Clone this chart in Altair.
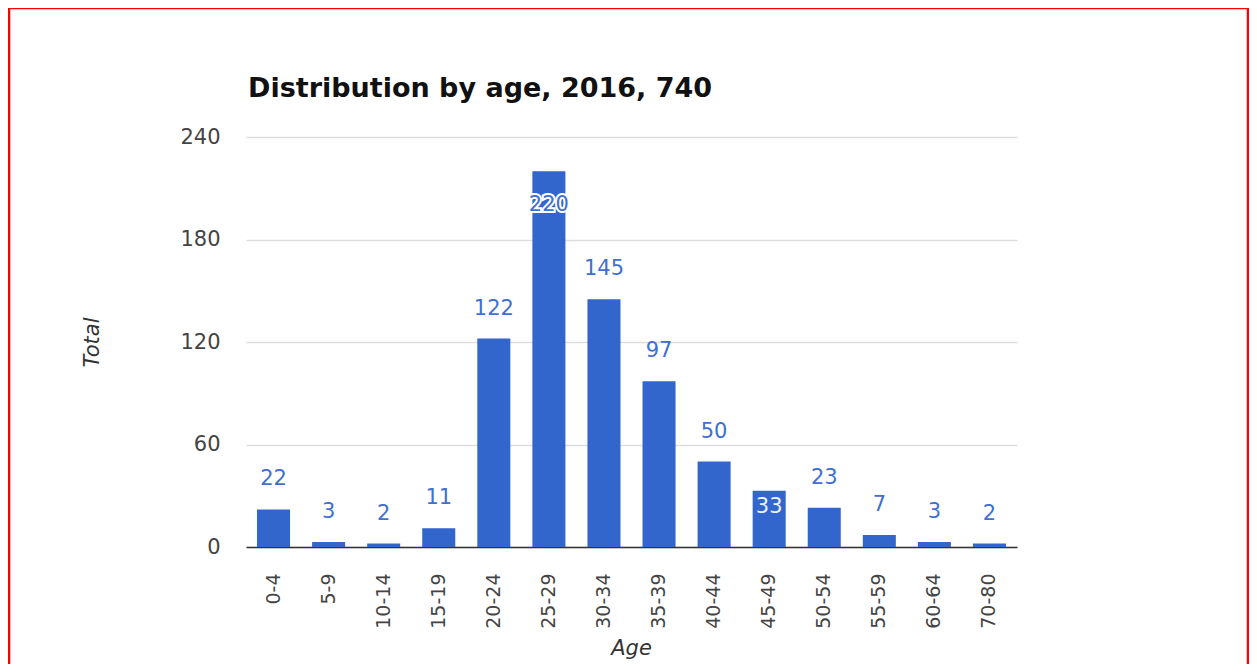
import altair as alt
import pandas as pd

ages = ["0-4", "5-9", "10-14", "15-19", "20-24", "25-29", "30-34",
        "35-39", "40-44", "45-49", "50-54", "55-59", "60-64", "70-80"]
totals = [22, 3, 2, 11, 122, 220, 145, 97, 50, 33, 23, 7, 3, 2]
inside_halo = ["25-29"]
inside_white = ["45-49"]

df = pd.DataFrame({"Age": ages, "Total": totals})
df["pos"] = ["halo" if a in inside_halo else ("white" if a in inside_white else "above") for a in ages]

W, H = 771, 410
BLUE = "#3366cc"
FONT = "DejaVu Sans"

x_enc = alt.X("Age:N", sort=ages, title="Age",
              scale=alt.Scale(paddingInner=0.4, paddingOuter=0.2),
              axis=alt.Axis(labelAngle=270, ticks=False, labelPadding=26, grid=False,
                            labelFontSize=19, labelColor="#444", labelFont=FONT,
                            domainColor="#333", domainWidth=1.5,
                            titleFont=FONT, titleFontStyle="italic",
                            titleFontWeight="normal", titleFontSize=21, titleColor="#333",
                            titleX=385, titleY=101, titleBaseline="middle", titleAlign="center"))
y_enc = alt.Y("Total:Q", title="Total",
              scale=alt.Scale(domain=[0, 240], nice=False),
              axis=alt.Axis(values=[0, 60, 120, 180, 240], ticks=False, domain=False,
                            labelPadding=26, labelFontSize=21, labelColor="#444",
                            labelFont=FONT, gridColor="#ddd", gridWidth=1.5,
                            titleFont=FONT, titleFontStyle="italic",
                            titleFontWeight="normal", titleFontSize=21, titleColor="#333",
                            titleX=-154, titleY=205, titleAngle=270,
                            titleBaseline="middle", titleAlign="center"))

base = alt.Chart(df)

bars = base.mark_bar(color=BLUE).encode(x=x_enc, y=y_enc)

lab_font = dict(font=FONT, fontSize=21, baseline="middle", align="center")

above = base.transform_filter(alt.datum.pos == "above").mark_text(
    color="#3f6fd1", dy=-30, **lab_font).encode(
    x=alt.X("Age:N", sort=ages), y="Total:Q", text="Total:Q")

halo_bg = base.transform_filter(alt.datum.pos == "halo").mark_text(
    color="white", stroke="white", strokeWidth=4, dy=34, **lab_font).encode(
    x=alt.X("Age:N", sort=ages), y="Total:Q", text="Total:Q")
halo_fg = base.transform_filter(alt.datum.pos == "halo").mark_text(
    color="#3f6fd1", dy=34, **lab_font).encode(
    x=alt.X("Age:N", sort=ages), y="Total:Q", text="Total:Q")

white = base.transform_filter(alt.datum.pos == "white").mark_text(
    color="#eef2fb", dy=16, **lab_font).encode(
    x=alt.X("Age:N", sort=ages), y="Total:Q", text="Total:Q")

frame = alt.Chart(pd.DataFrame({"k": [0]})).mark_rect(
    fill=None, stroke="#ff0000", strokeWidth=2.5).encode(
    x=alt.value(-237), x2=alt.value(1002), y=alt.value(-129), y2=alt.value(560))

chart = alt.layer(frame, bars, above, halo_bg, halo_fg, white).properties(
    width=W, height=H,
    title=alt.TitleParams("Distribution by age, 2016, 740", anchor="start", frame="group",
                          font=FONT, fontSize=27, fontWeight="bold",
                          color="#111", offset=-117, baseline="alphabetic", dx=2),
    autosize=alt.AutoSizeParams(type="none"),
    padding={"left": 238, "top": 129, "right": 232, "bottom": 117},
).configure(background="white", view=alt.ViewConfig(stroke=None))

chart.save("out.html", embed_options={"renderer": "svg", "actions": False})
